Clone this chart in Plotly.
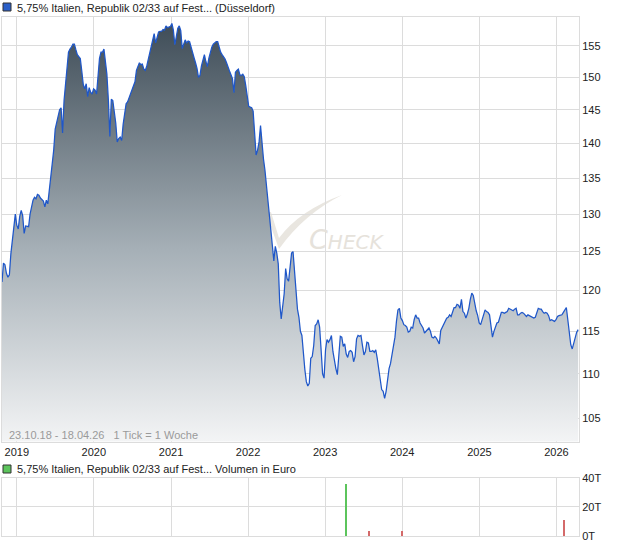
import math
import pandas as pd
import plotly.graph_objects as go

# ---------------- data ----------------
price = [
    121.1, 123.5, 123.3, 122.2, 121.7, 122.0, 124.7, 126.2, 128.1, 130.0,
    128.5, 128.0, 129.7, 130.5, 129.8, 127.4, 128.4, 128.3, 128.3, 130.0,
    131.2, 131.9, 132.3, 132.1, 132.7, 132.6, 132.2, 132.0, 131.8, 131.0,
    131.9, 131.4, 133.3, 135.1, 137.0, 139.0, 142.1, 143.1, 144.0, 145.0,
    145.3, 141.5, 146.4, 148.8, 151.7, 154.0, 154.5, 154.8, 155.3, 155.3,
    154.4, 153.6, 153.3, 153.0, 151.0, 148.9, 148.2, 149.0, 147.0, 148.4,
    147.7, 147.4, 148.2, 148.0, 147.4, 149.8, 153.0, 154.0, 154.0, 154.5,
    152.5, 150.5, 146.5, 141.0, 146.6, 146.4, 144.7, 143.0, 140.2, 140.7,
    140.9, 140.4, 142.8, 144.8, 145.9, 146.2, 146.8, 147.4, 147.9, 148.4,
    149.3, 151.1, 151.7, 152.3, 152.0, 152.1, 151.3, 151.1, 151.8, 152.8,
    153.8, 155.1, 156.3, 157.0, 155.5, 156.4, 157.3, 157.4, 157.4, 157.7,
    157.6, 158.3, 158.0, 158.1, 158.2, 158.7, 157.6, 155.2, 156.7, 157.9,
    158.3, 157.5, 154.6, 155.2, 156.0, 155.5, 155.8, 155.7, 154.7, 153.6,
    153.1, 152.3, 151.4, 150.0, 150.3, 151.8, 152.8, 153.6, 152.5, 151.7,
    153.0, 154.1, 154.8, 155.3, 155.5, 155.7, 155.7, 154.8, 154.0, 153.6,
    153.3, 152.9, 152.3, 151.5, 151.0, 150.4, 149.8, 147.6, 150.8, 151.1,
    151.3, 150.4, 150.3, 150.5, 150.1, 148.7, 147.3, 145.5, 145.4, 145.3,
    144.8, 141.5, 138.3, 139.0, 140.2, 142.6, 139.6, 137.7, 136.1, 134.2,
    131.7, 129.6, 127.8, 125.8, 123.8, 125.7, 124.8, 123.4, 118.5, 116.5,
    118.0, 119.6, 122.8, 121.5, 121.2, 123.4, 124.8, 125.0, 122.4, 119.8,
    117.7, 116.7, 115.0, 114.5, 112.0, 110.5, 109.1, 108.6, 108.9, 111.8,
    112.0, 113.3, 115.7, 115.9, 116.4, 115.5, 112.8, 110.0, 109.5, 112.8,
    114.0, 113.7, 114.0, 114.5, 112.6, 111.5, 110.6, 109.9, 111.8, 114.4,
    114.3, 113.2, 113.5, 112.3, 111.9, 112.6, 112.7, 112.5, 111.4, 112.0,
    114.1, 114.5, 114.4, 114.5, 113.3, 112.2, 112.6, 113.7, 113.6, 112.6,
    112.6, 112.7, 112.5, 112.8, 111.8, 110.7, 109.4, 108.2, 108.0, 107.2,
    108.0, 109.3, 110.6, 111.2, 112.2, 113.1, 114.3, 116.2, 117.6, 117.8,
    116.6, 116.3, 115.8, 115.7, 115.5, 114.9, 115.0, 115.5, 115.4, 116.4,
    117.0, 116.6, 116.6, 116.0, 115.7, 115.4, 114.8, 115.0, 115.3, 115.4,
    115.0, 114.3, 114.2, 114.4, 114.2, 113.8, 113.5, 115.1, 115.5, 115.9,
    116.4, 116.6, 116.7, 117.0, 116.8, 117.4, 117.9, 117.9, 118.3, 118.2,
    117.8, 118.9, 117.4, 117.2, 116.6, 117.1, 117.8, 118.9, 119.7, 119.4,
    118.3, 117.5, 116.9, 116.0, 115.8, 116.4, 117.2, 117.6, 117.4, 117.3,
    117.0, 115.3, 114.3, 115.0, 115.6, 116.0, 116.1, 116.7, 117.3, 117.3,
    117.2, 117.3, 117.4, 117.8, 117.7, 117.6, 117.5, 117.7, 117.8, 117.0,
    117.0, 117.2, 117.3, 117.2, 117.0, 116.8, 117.0, 116.9, 116.9, 116.7,
    116.6, 116.7, 117.3, 117.8, 117.7, 117.7, 117.4, 117.2, 117.3, 117.2,
    116.9, 116.3, 116.4, 116.3, 116.2, 116.4, 116.8, 116.9, 117.0, 117.0,
    117.3, 117.7, 117.9, 116.4, 114.6, 113.4, 112.9, 113.6, 114.2, 114.9,
    115.2,
]
start_date = "2018-10-23"
end_date = "2026-04-18"
dates = pd.date_range(start_date, periods=len(price), freq="7D")

vol_dates = ["2023-04-10", "2023-07-26", "2024-01-01", "2026-02-06"]
vol_values = [36000, 3500, 3500, 11000]
vol_colors = ["#5cc45c", "#d46a6a", "#d46a6a", "#d46a6a"]

price_ticks = [105, 110, 115, 120, 125, 130, 135, 140, 145, 150, 155]
price_range = [102.48, 159.77]
vol_ticks = [0, 20000, 40000]
vol_ticktext = ["0T", "20T", "40T"]

title_main = "5,75% Italien, Republik 02/33 auf Fest... (Düsseldorf)"
title_vol = "5,75% Italien, Republik 02/33 auf Fest... Volumen in Euro"
info_text = "23.10.18 - 18.04.26   1 Tick = 1 Woche"

# ---------------- layout helpers ----------------
L, R, T, B = 2, 41, 17, 10
FW, FH = 620, 546
W = FW - L - R
H = FH - T - B


def X(px):
    return (px - L) / W


def Y(py):
    return (FH - B - py) / H


FONT = "Arial"
GRID = "#dcdcdc"

fig = go.Figure()

# baseline for the area fill
fig.add_trace(go.Scatter(
    x=dates, y=[100] * len(price), mode="lines",
    line=dict(width=0, color="rgba(0,0,0,0)"), hoverinfo="skip", showlegend=False,
    xaxis="x", yaxis="y",
))
fig.add_trace(go.Scatter(
    x=dates, y=price, mode="lines",
    line=dict(color="#1f57c9", width=1.25),
    fill="tonexty",
    fillgradient=dict(
        type="vertical",
        colorscale=[[0, "#f3f4f5"], [0.45, "#a6b0b7"], [1, "#3c4a55"]],
        start=price_range[0], stop=price_range[1],
    ),
    showlegend=False, xaxis="x", yaxis="y",
))

fig.add_trace(go.Bar(
    x=pd.to_datetime(vol_dates), y=vol_values, marker=dict(color=vol_colors, line=dict(width=0)),
    width=4.5 * 24 * 3600 * 1000, showlegend=False, xaxis="x2", yaxis="y2",
))

main_bottom = Y(441.5)
vol_top = Y(477.7)

fig.update_layout(
    width=FW, height=FH,
    margin=dict(l=L, r=R, t=T, b=B),
    paper_bgcolor="white", plot_bgcolor="white",
    font=dict(family=FONT, size=11, color="#222222"),
    bargap=0,
    xaxis=dict(
        type="date", range=[start_date, end_date], domain=[0, 1], anchor="y",
        tick0="2019-01-01", dtick="M12", tickformat="%Y",
        showgrid=True, gridcolor=GRID, gridwidth=1,
        showline=True, linecolor=GRID, mirror=True,
        ticks="", tickfont=dict(family=FONT, size=11, color="#222222"),
    ),
    yaxis=dict(
        type="log", range=[math.log10(price_range[0]), math.log10(price_range[1])],
        domain=[main_bottom, 1], side="right", anchor="x",
        tickvals=price_ticks, ticktext=[str(v) for v in price_ticks],
        showgrid=True, gridcolor=GRID, gridwidth=1,
        showline=True, linecolor=GRID, mirror=True,
        ticks="", tickfont=dict(family=FONT, size=11, color="#222222"), zeroline=False,
    ),
    xaxis2=dict(
        type="date", range=[start_date, end_date], domain=[0, 1], anchor="y2", matches="x",
        tick0="2019-01-01", dtick="M12", showticklabels=False,
        showgrid=True, gridcolor=GRID, gridwidth=1,
        showline=True, linecolor=GRID, mirror=True, ticks="",
    ),
    yaxis2=dict(
        range=[0, 40000], domain=[0, vol_top], side="right", anchor="x2",
        tickvals=vol_ticks, ticktext=vol_ticktext,
        showgrid=True, gridcolor=GRID, gridwidth=1,
        showline=True, linecolor=GRID, mirror=True, zeroline=False,
        ticks="", tickfont=dict(family=FONT, size=11, color="#222222"),
    ),
)

shapes = [
    dict(type="rect", xref="paper", yref="paper", x0=X(3), x1=X(11), y0=Y(11), y1=Y(3),
         fillcolor="#2a5fc8", line=dict(color="#333333", width=1)),
    dict(type="rect", xref="paper", yref="paper", x0=X(3), x1=X(11), y0=Y(473), y1=Y(465),
         fillcolor="#5cc45c", line=dict(color="#333333", width=1)),
]
# watermark swoosh
sw = [(266, 213), (271, 212), (279, 238), (300, 210), (342, 195), (304, 214), (279, 249)]
path = "M " + " L ".join(f"{X(a):.5f},{Y(b):.5f}" for a, b in sw[:3])
path += f" Q {X(sw[3][0]):.5f},{Y(sw[3][1]):.5f} {X(sw[4][0]):.5f},{Y(sw[4][1]):.5f}"
path += f" Q {X(sw[5][0]):.5f},{Y(sw[5][1]):.5f} {X(sw[6][0]):.5f},{Y(sw[6][1]):.5f} Z"
shapes.append(dict(type="path", xref="paper", yref="paper", path=path,
                   fillcolor="#e9e6e0", line=dict(width=0), layer="below"))
fig.update_layout(shapes=shapes)

annotations = [
    dict(text=title_main, xref="paper", yref="paper", x=X(15), y=Y(8), xanchor="left",
         yanchor="middle", showarrow=False, font=dict(family=FONT, size=11, color="#222222")),
    dict(text=title_vol, xref="paper", yref="paper", x=X(15), y=Y(469), xanchor="left",
         yanchor="middle", showarrow=False, font=dict(family=FONT, size=11, color="#222222")),
    dict(text=info_text, xref="paper", yref="paper", x=X(7), y=Y(435), xanchor="left",
         yanchor="middle", showarrow=False, font=dict(family=FONT, size=11, color="#9a9a9a")),
    dict(text='<i><span style="font-size:27px">C</span>HECK</i>', xref="paper", yref="paper",
         x=X(307), y=Y(239), xanchor="left", yanchor="middle", showarrow=False,
         font=dict(size=20, color="#e6e2db", family="DejaVu Sans")),
]
fig.update_layout(annotations=annotations)

fig.write_html(
    "out.html",
    config={"displayModeBar": False},
    post_script="document.body.style.margin='0';document.body.style.overflow='hidden';",
)
